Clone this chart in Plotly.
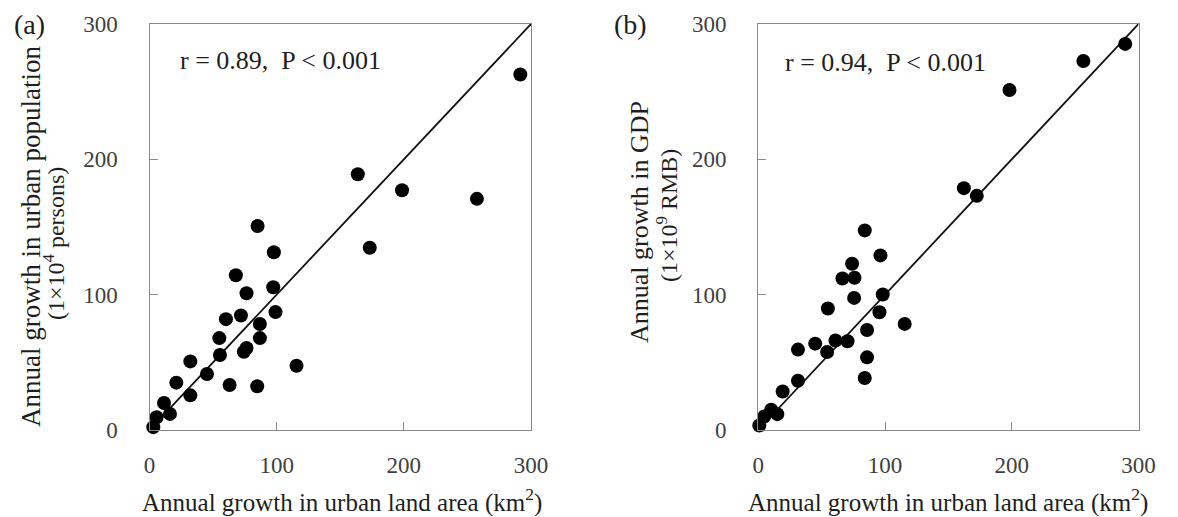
import plotly.graph_objects as go

# Panel (a): urban land area growth vs urban population growth
land_a = [85.0, 97.8, 67.9, 76.3, 97.3, 99.1, 60.1, 71.9, 86.8, 54.9, 86.8, 76.3, 74.2, 55.4, 32.1,
          45.2, 115.6, 63.0, 84.7, 21.1, 32.1, 11.4, 16.1, 5.6, 3.0, 173.2, 257.5, 163.8, 198.6, 291.6]
pop_a = [150.7, 131.3, 114.4, 101.1, 105.5, 87.1, 81.9, 84.6, 78.3, 67.9, 67.9, 60.6, 57.8, 55.4, 50.7,
         41.4, 47.5, 33.3, 32.3, 35.0, 25.6, 20.0, 11.9, 9.4, 2.1, 134.7, 170.8, 189.0, 177.2, 262.7]

# Panel (b): urban land area growth vs GDP growth
land_b = [84.0, 96.4, 74.0, 66.4, 75.9, 75.6, 98.2, 54.9, 95.6, 115.5, 85.8, 44.9, 60.9, 70.4, 54.3,
          31.3, 85.8, 84.0, 31.3, 19.2, 10.2, 15.0, 4.7, 0.8, 162.2, 172.4, 198.2, 256.5, 289.5]
gdp_b = [147.5, 129.0, 122.8, 112.0, 112.5, 97.6, 100.1, 89.8, 87.0, 78.4, 73.9, 63.8, 66.1, 65.6, 57.6,
         59.4, 53.7, 38.4, 36.4, 28.5, 15.0, 11.7, 10.0, 3.3, 178.7, 173.0, 251.2, 272.7, 285.3]

one_to_one = [0, 300]
tick_vals = [0, 100, 200, 300]
tick_text = ["0", "100", "200", "300"]

W, H = 1178, 517
FONT = "Liberation Serif"
TICK_COLOR = "#404040"
TEXT_COLOR = "#1e1e1e"
FRAME = "#8a8a8a"

fig = go.Figure()

for xs, ys, xa, ya in [(land_a, pop_a, "x", "y"), (land_b, gdp_b, "x2", "y2")]:
    fig.add_trace(go.Scatter(x=one_to_one, y=one_to_one, mode="lines",
                             line=dict(color="#111111", width=1.8),
                             xaxis=xa, yaxis=ya, showlegend=False, hoverinfo="skip"))
    fig.add_trace(go.Scatter(x=xs, y=ys, mode="markers",
                             marker=dict(color="black", size=14, line=dict(width=0)),
                             xaxis=xa, yaxis=ya, showlegend=False, cliponaxis=False))

def px_x(p):
    return p / W

def px_y(p):
    return 1 - p / H

ydom = [px_y(430), px_y(24)]
axis_common = dict(range=[0, 300], tickvals=tick_vals, ticktext=tick_text, automargin=False,
                   showgrid=False, zeroline=False, showline=True, mirror=True,
                   linecolor=FRAME, linewidth=1.3, ticks="inside", ticklen=8,
                   tickcolor=FRAME, tickwidth=1.3,
                   tickfont=dict(family=FONT, size=23, color=TICK_COLOR))

fig.update_layout(
    width=W, height=H, autosize=False,
    margin=dict(l=0, r=0, t=0, b=0, pad=0, autoexpand=False),
    showlegend=False,
    paper_bgcolor="white", plot_bgcolor="white",
    xaxis=dict(domain=[px_x(149.5), px_x(531)], anchor="y", ticklabelstandoff=14, **axis_common),
    yaxis=dict(domain=ydom, anchor="x", ticklabelstandoff=26, **axis_common),
    xaxis2=dict(domain=[px_x(758.3), px_x(1138.5)], anchor="y2", ticklabelstandoff=14, **axis_common),
    yaxis2=dict(domain=ydom, anchor="x2", ticklabelstandoff=26, **axis_common),
)

def ann(text, x, y, size, angle=0, xanchor="center", color=TEXT_COLOR):
    fig.add_annotation(text=text, x=px_x(x), y=px_y(y), xref="paper", yref="paper",
                       showarrow=False, textangle=angle, xanchor=xanchor, yanchor="middle",
                       font=dict(family=FONT, size=size, color=color))

# panel letters
ann("(a)", 29, 25, 28)
ann("(b)", 630, 25, 28)

# correlation text
ann("r = 0.89,  P < 0.001", 178, 61, 26, xanchor="left")
ann("r = 0.94,  P < 0.001", 783, 62, 26, xanchor="left")

# y-axis titles
ann("Annual growth in urban population", 31, 237, 27, angle=-90)
ann("(1×10<sup>4</sup> persons)", 54, 244, 24, angle=-90)
ann("Annual growth in GDP", 639, 222, 26, angle=-90)
ann("(1×10<sup>9</sup> RMB)", 667, 216, 24, angle=-90)

# x-axis titles
ann("Annual growth in urban land area (km<sup>2</sup>)", 341.5, 500, 25)
ann("Annual growth in urban land area (km<sup>2</sup>)", 948, 500, 25)

fig.write_html("out.html")
